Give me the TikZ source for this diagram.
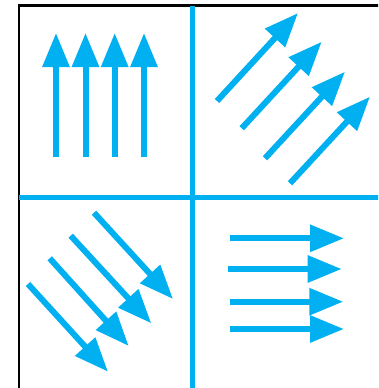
\documentclass[tikz,border=0pt]{standalone}
\usetikzlibrary{arrows.meta}
\definecolor{arrblue}{RGB}{0,176,240}
\tikzset{
  vec/.style={draw=arrblue, line width=6pt, line cap=butt, -{Triangle[length=34pt,width=26pt]}},
  divider/.style={draw=arrblue, line width=5pt},
  frame/.style={draw=black, line width=2.5pt}
}
\begin{document}
\begin{tikzpicture}[x=1pt,y=-1pt]
\useasboundingbox (0,0) rectangle (378,388);
\clip (0,0) rectangle (378,388);
% frame
\draw[frame] (19,400) -- (19,5.5) -- (400,5.5);
% dividers
\draw[divider] (192.5,5.5) -- (192.5,400);
\draw[divider] (19,197.5) -- (400,197.5);
% up arrows
\foreach \x in {56,85.5,114.7,144}
  \draw[vec] (\x,157) -- (\x,33);
% top-right diagonal arrows
\draw[vec] (217,101) -- (298,13);
\draw[vec] (241.7,128.3) -- (321.7,41.7);
\draw[vec] (265,158.3) -- (345,71.7);
\draw[vec] (290,183.3) -- (370,96.7);
% bottom-left diagonal arrows
\draw[vec] (94,212.7) -- (173,299);
\draw[vec] (70.7,235.7) -- (151.3,323.3);
\draw[vec] (49.7,258.3) -- (128.7,346);
\draw[vec] (28,284) -- (108,371.7);
% right arrows
\draw[vec] (230,238.3) -- (344,238.3);
\draw[vec] (228,269) -- (341.7,269);
\draw[vec] (229.7,301.7) -- (343.3,301.7);
\draw[vec] (230,329) -- (344,329);
\end{tikzpicture}
\end{document}
